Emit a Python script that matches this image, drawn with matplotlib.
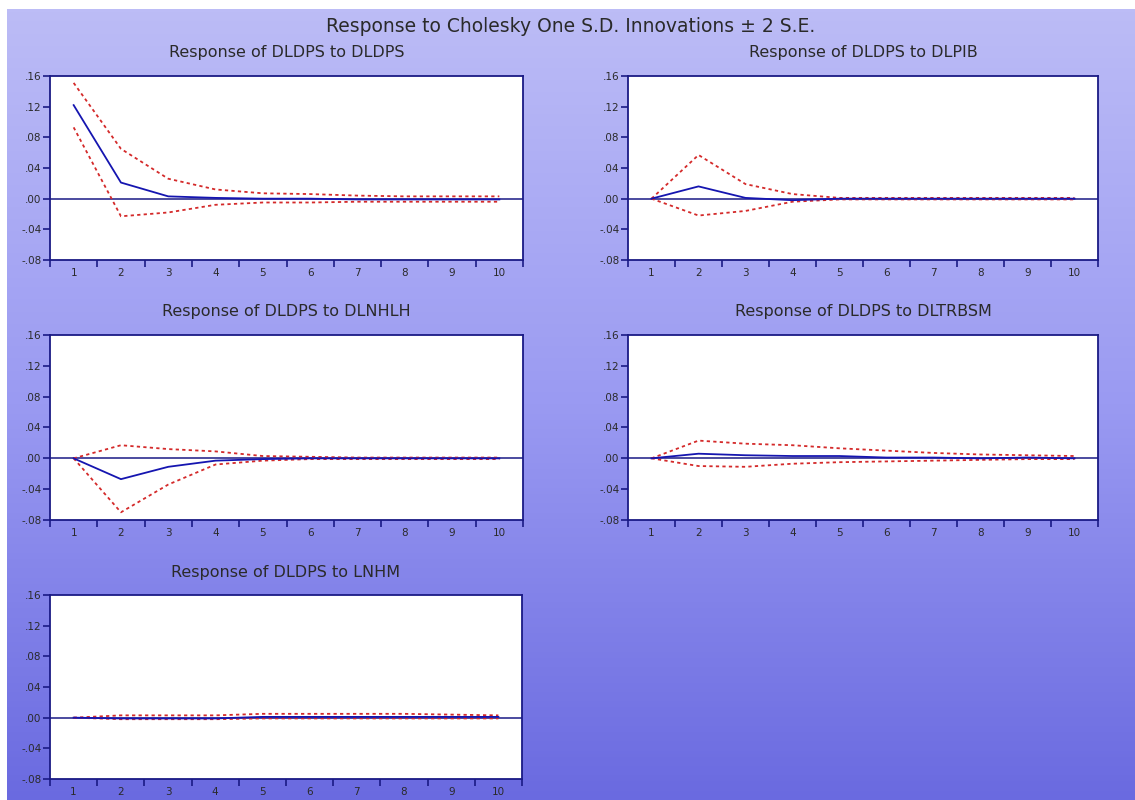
import numpy as np
import matplotlib.pyplot as plt
from matplotlib.colors import LinearSegmentedColormap

periods = np.arange(1, 11)

# impulse responses of DLDPS with +/- 2 S.E. bands
titles = ['Response of DLDPS to DLDPS', 'Response of DLDPS to DLPIB',
          'Response of DLDPS to DLNHLH', 'Response of DLDPS to DLTRBSM',
          'Response of DLDPS to LNHM']

resp_dldps = [0.122, 0.021, 0.003, 0.001, 0.000, 0.000, -0.001, -0.001, -0.001, -0.001]
upper_dldps = [0.151, 0.065, 0.026, 0.012, 0.007, 0.006, 0.004, 0.003, 0.003, 0.003]
lower_dldps = [0.093, -0.023, -0.018, -0.008, -0.005, -0.005, -0.004, -0.004, -0.004, -0.004]

resp_dlpib = [0.000, 0.016, 0.001, -0.002, 0.000, 0.000, 0.000, 0.000, 0.000, 0.000]
upper_dlpib = [0.000, 0.057, 0.019, 0.006, 0.001, 0.001, 0.001, 0.001, 0.001, 0.001]
lower_dlpib = [0.000, -0.022, -0.016, -0.004, -0.001, -0.001, -0.001, -0.001, -0.001, -0.001]

resp_dlnhlh = [0.000, -0.027, -0.011, -0.003, -0.001, 0.000, 0.000, 0.000, 0.000, 0.000]
upper_dlnhlh = [0.000, 0.017, 0.012, 0.009, 0.003, 0.002, 0.001, 0.001, 0.001, 0.001]
lower_dlnhlh = [0.000, -0.070, -0.034, -0.008, -0.003, -0.001, -0.001, -0.001, -0.001, -0.001]

resp_dltrbsm = [0.000, 0.006, 0.004, 0.003, 0.003, 0.001, 0.001, 0.000, 0.001, 0.000]
upper_dltrbsm = [0.000, 0.023, 0.019, 0.017, 0.013, 0.010, 0.007, 0.005, 0.004, 0.003]
lower_dltrbsm = [0.000, -0.010, -0.011, -0.007, -0.005, -0.004, -0.003, -0.002, -0.001, -0.001]

resp_lnhm = [0.000, -0.001, -0.001, -0.001, 0.001, 0.001, 0.001, 0.001, 0.001, 0.001]
upper_lnhm = [0.000, 0.003, 0.003, 0.003, 0.005, 0.005, 0.005, 0.005, 0.004, 0.003]
lower_lnhm = [0.000, -0.002, -0.002, -0.002, -0.001, -0.001, -0.001, -0.001, -0.001, -0.001]

yticks = [-0.08, -0.04, 0.00, 0.04, 0.08, 0.12, 0.16]

series = [(resp_dldps, upper_dldps, lower_dldps),
          (resp_dlpib, upper_dlpib, lower_dlpib),
          (resp_dlnhlh, upper_dlnhlh, lower_dlnhlh),
          (resp_dltrbsm, upper_dltrbsm, lower_dltrbsm),
          (resp_lnhm, upper_lnhm, lower_lnhm)]

W, H = 1135, 800
# panel boxes in pixels: left, top, right, bottom
boxes = [(50, 76, 523, 260), (628, 76, 1098, 260),
         (50, 335, 523, 520), (628, 335, 1098, 520),
         (50, 595, 522, 779)]

navy = '#1a1a85'
red = '#d42a2a'
txt = '#2a2a2a'

plt.rcParams['font.family'] = ['DejaVu Sans']

fig = plt.figure(figsize=(W / 100, H / 100), dpi=100)
fig.patch.set_facecolor('white')

# lavender-to-blue gradient behind everything
bg = fig.add_axes([7 / W, 0, 1 - 7 / W, 1 - 9 / H], zorder=-5)
cmap = LinearSegmentedColormap.from_list('bg', ['#bcbcf6', '#9a9af2', '#6a6ae0'])
bg.imshow(np.linspace(0, 1, 256).reshape(-1, 1), aspect='auto', cmap=cmap,
          extent=[0, 1, 0, 1])
bg.axis('off')

fig.text(571 / W, 1 - 26 / H, 'Response to Cholesky One S.D. Innovations \u00b1 2 S.E.',
         ha='center', va='center', fontsize=13.5, color=txt)

for (l, t, r, b), title, (resp, upper, lower) in zip(boxes, titles, series):
    ax = fig.add_axes([l / W, 1 - b / H, (r - l) / W, (b - t) / H])
    ax.set_facecolor('white')
    ax.axhline(0, color=navy, lw=1.1, zorder=1)
    ax.plot(periods, upper, color=red, lw=1.3, ls=(0, (1.8, 1.8)), zorder=2)
    ax.plot(periods, lower, color=red, lw=1.3, ls=(0, (1.8, 1.8)), zorder=2)
    ax.plot(periods, resp, color='#1515b0', lw=1.3, zorder=3)

    ax.set_xlim(0.5, 10.5)
    ax.set_ylim(-0.08, 0.16)
    ax.set_yticks(yticks)
    ax.set_yticklabels([f'{v:.2f}'.replace('0.', '.') for v in yticks])
    ax.set_xticks(np.arange(0.5, 11, 1))
    ax.set_xticklabels([])
    ax.set_xticks(periods, minor=True)
    ax.set_xticklabels([str(p) for p in periods], minor=True)
    ax.tick_params(axis='both', which='major', direction='out', length=5,
                   width=1.2, color=navy, labelsize=7.5, labelcolor=txt, pad=1)
    ax.tick_params(axis='x', which='minor', length=0, labelsize=7.5,
                   labelcolor=txt, pad=6)
    for s in ax.spines.values():
        s.set_color(navy)
        s.set_linewidth(1.3)

    ax.text(0.5, 1 + 23 / (b - t), title, transform=ax.transAxes,
            ha='center', va='center', fontsize=11.5, color=txt)

fig.savefig('out.png', dpi=100)
